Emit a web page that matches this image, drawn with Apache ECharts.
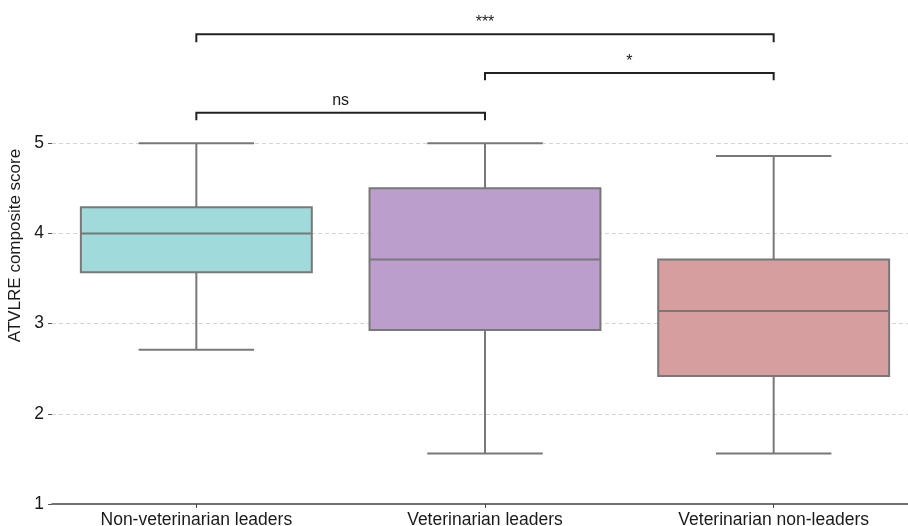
<!DOCTYPE html>
<html>
<head>
<meta charset="utf-8">
<script src="https://cdn.jsdelivr.net/npm/echarts@6/dist/echarts.min.js"></script>
<style>
  html, body { margin: 0; padding: 0; background: #fff; }
  #chart { width: 908px; height: 526px; }
</style>
</head>
<body>
<div id="chart"></div>
<script>
// groups and box statistics
const categories = ['Non-veterinarian leaders', 'Veterinarian leaders', 'Veterinarian non-leaders'];
const lowWhisker = [2.71, 1.56, 1.56];
const q1 = [3.57, 2.93, 2.42];
const median = [4.0, 3.71, 3.14];
const q3 = [4.29, 4.5, 3.71];
const highWhisker = [5.0, 5.0, 4.86];
const boxColors = ['#a0dadb', '#bb9ecc', '#d69e9e'];
const yTicks = [1, 2, 3, 4, 5];
const gridValues = [2, 3, 4, 5];

// significance brackets: from group, to group, height, drop, label
const bracketFrom = [0, 1, 0];
const bracketTo = [1, 2, 2];
const bracketY = [5.337, 5.778, 6.21];
const bracketDrop = [5.256, 5.70, 6.12];
const bracketText = ['ns', '*', '***'];

const boxData = categories.map((c, i) => [i, lowWhisker[i], q1[i], median[i], q3[i], highWhisker[i]]);
const bracketData = bracketText.map((t, i) => [bracketFrom[i], bracketTo[i], bracketY[i], bracketDrop[i], t]);

const edge = '#787878';
const font = 'Liberation Sans, Arial';
const chart = echarts.init(document.getElementById('chart'));

const option = {
  animation: false,
  grid: { left: 52, width: 866, top: 17, bottom: 22, outerBoundsMode: 'none', containLabel: false },
  xAxis: {
    type: 'category',
    data: categories,
    axisLine: { show: true, lineStyle: { color: '#444', width: 1.5 } },
    axisTick: { show: true, alignWithLabel: true, length: 4, lineStyle: { color: '#444' } },
    axisLabel: { color: '#1a1a1a', fontSize: 17.5, fontFamily: font, margin: 7 },
    splitLine: { show: false }
  },
  yAxis: {
    type: 'value',
    min: 1,
    max: 6.4,
    interval: 1,
    name: 'ATVLRE composite score',
    nameLocation: 'middle',
    nameGap: 19,
    nameTextStyle: { color: '#1a1a1a', fontSize: 17, fontFamily: font, padding: [0, 0, 0, 30] },
    axisLine: { show: false },
    axisTick: { show: true, customValues: yTicks, length: 4, lineStyle: { color: '#555' } },
    axisLabel: { customValues: yTicks, color: '#1a1a1a', fontSize: 17.5, fontFamily: font, margin: 8 },
    splitLine: { show: false }
  },
  series: [
    {
      type: 'custom',
      z: 1,
      data: bracketData,
      encode: { x: [0, 1], y: [2, 3] },
      renderItem: function (params, api) {
        const a = api.coord([api.value(0), api.value(2)]);
        const b = api.coord([api.value(1), api.value(2)]);
        const d = api.coord([api.value(0), api.value(3)]);
        const st = { stroke: '#222', lineWidth: 2, fill: 'none' };
        return {
          type: 'group',
          children: [
            { type: 'polyline', shape: { points: [[a[0], d[1]], a, b, [b[0], d[1]]] }, style: st },
            {
              type: 'text',
              style: {
                text: bracketData[params.dataIndex][4],
                x: (a[0] + b[0]) / 2,
                y: a[1] - 4,
                align: 'center',
                verticalAlign: 'bottom',
                fill: '#1a1a1a',
                font: '16px "Liberation Sans", Arial'
              }
            }
          ]
        };
      },
      markLine: {
        silent: true,
        z: 1,
        symbol: 'none',
        label: { show: false },
        lineStyle: { type: [4, 3], color: '#d4d4d4', width: 1 },
        data: gridValues.map(v => ({ yAxis: v }))
      }
    },
    {
      type: 'custom',
      z: 3,
      data: boxData,
      encode: { x: 0, y: [1, 2, 3, 4, 5] },
      renderItem: function (params, api) {
        const i = api.value(0);
        const pLow = api.coord([i, api.value(1)]);
        const pQ1 = api.coord([i, api.value(2)]);
        const pMed = api.coord([i, api.value(3)]);
        const pQ3 = api.coord([i, api.value(4)]);
        const pHigh = api.coord([i, api.value(5)]);
        const bw = api.size([1, 0])[0] * 0.8;
        const cx = pMed[0];
        const cap = bw / 4;
        const ln = { stroke: edge, lineWidth: 2 };
        return {
          type: 'group',
          children: [
            { type: 'line', shape: { x1: cx, y1: pQ3[1], x2: cx, y2: pHigh[1] }, style: ln },
            { type: 'line', shape: { x1: cx, y1: pQ1[1], x2: cx, y2: pLow[1] }, style: ln },
            { type: 'line', shape: { x1: cx - cap, y1: pHigh[1], x2: cx + cap, y2: pHigh[1] }, style: ln },
            { type: 'line', shape: { x1: cx - cap, y1: pLow[1], x2: cx + cap, y2: pLow[1] }, style: ln },
            {
              type: 'rect',
              shape: { x: cx - bw / 2, y: pQ3[1], width: bw, height: pQ1[1] - pQ3[1] },
              style: { fill: boxColors[params.dataIndex], stroke: edge, lineWidth: 2 }
            },
            { type: 'line', shape: { x1: cx - bw / 2, y1: pMed[1], x2: cx + bw / 2, y2: pMed[1] }, style: ln }
          ]
        };
      }
    }
  ]
};

chart.setOption(option);
</script>
</body>
</html>
